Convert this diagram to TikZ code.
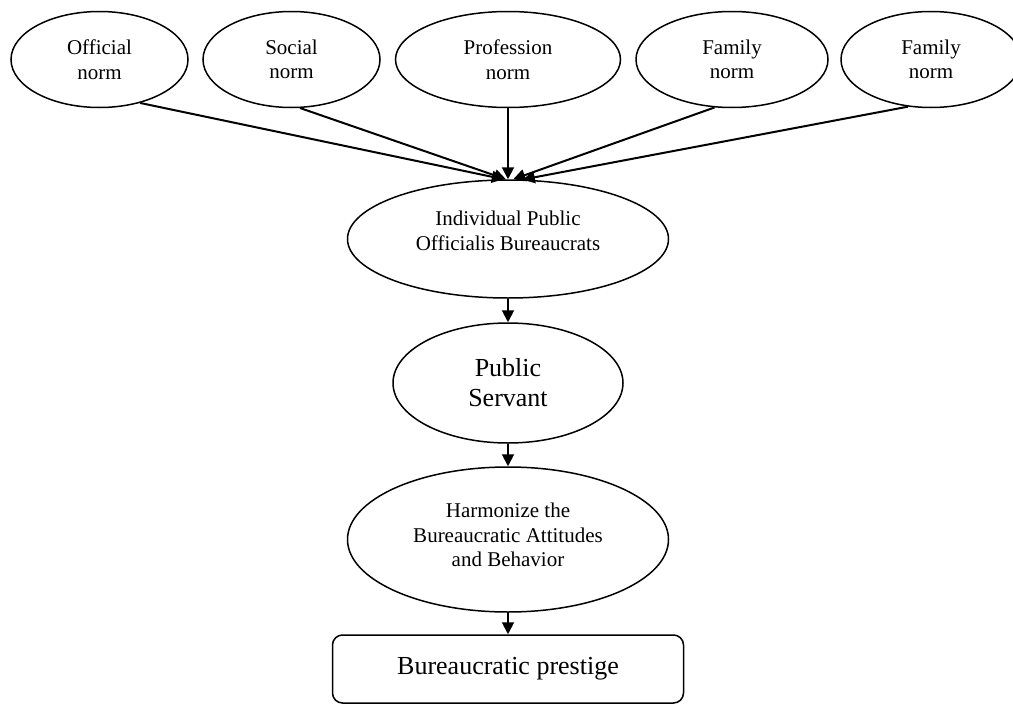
\documentclass[tikz,border=0pt]{standalone}
\usepackage{fontspec}
\setmainfont{Liberation Serif}
\usetikzlibrary{arrows.meta,shapes.geometric}
\begin{document}
\begin{tikzpicture}[x=1pt,y=-1pt,
  small/.style={font=\fontsize{21}{24.5}\selectfont},
  big/.style={font=\fontsize{26}{30}\selectfont},
  oval/.style={ellipse, draw, line width=1.5pt, inner sep=0pt, align=center},
  norm/.style={oval, small, minimum height=96pt},
  arr/.style={-{Triangle[length=12pt,width=12pt]}, line width=2pt},
]
\useasboundingbox (0,0) rectangle (1013,704);
\node[norm, minimum width=177pt] (e1) at (99.5,59.5) {Official\\norm};
\node[norm, minimum width=177pt] (e2) at (291.5,59.5) {Social\\norm};
\node[norm, minimum width=225pt] (e3) at (508,59.5) {Profession\\norm};
\node[norm, minimum width=192pt] (e4) at (732,59.5) {Family\\norm};
\node[norm, minimum width=180pt] (e5) at (931,59.5) {Family\\norm};
\node[oval, small, minimum width=321pt, minimum height=118pt] (ind) at (508,239)
  {Individual Public\\Officialis Bureaucrats\rule[-17pt]{0pt}{17pt}};
\node[oval, big, minimum width=230pt, minimum height=120pt] (pub) at (508,383)
  {Public\\Servant};
\node[oval, small, minimum width=321pt, minimum height=145pt] (harm) at (508,539.5)
  {Harmonize the\\Bureaucratic Attitudes\\and Behavior\rule[-9pt]{0pt}{9pt}};
\node[draw, rounded corners=10pt, line width=1.5pt, inner sep=0pt,
  minimum width=351pt, minimum height=68pt, big] (box) at (508,669)
  {Bureaucratic prestige};
\draw[arr] (e1.-47) -- (ind.94);
\draw[arr] (e2.-80) -- (ind.92);
\draw[arr] (e3.south) -- (ind.north);
\draw[arr] (e4.-110) -- (ind.85);
\draw[arr] (e5.-116) -- (ind.76);
\draw[arr] (ind.south) -- (pub.north);
\draw[arr] (pub.south) -- (harm.north);
\draw[arr] (harm.south) -- (box.north);
\end{tikzpicture}
\end{document}
